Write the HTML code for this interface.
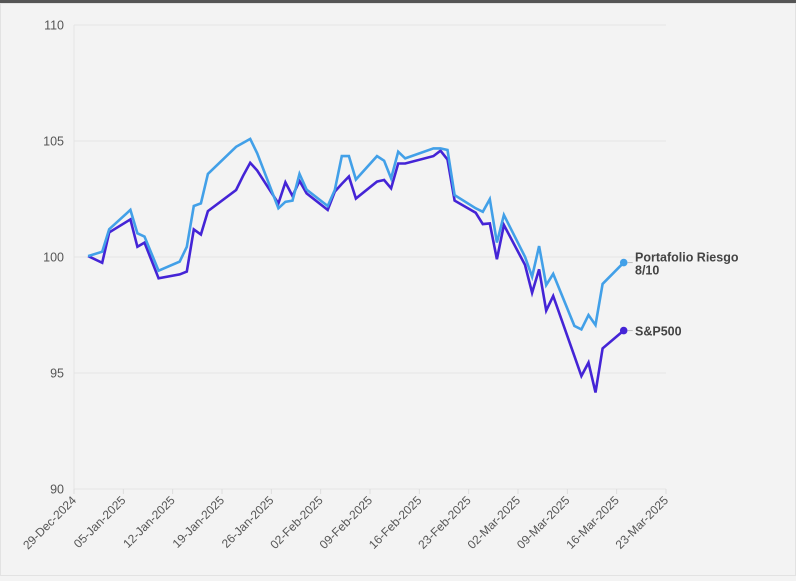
<!DOCTYPE html>
<html><head><meta charset="utf-8">
<style>
html,body{margin:0;padding:0;background:#f3f3f3;}
body{width:796px;height:576px;overflow:hidden;font-family:"Liberation Sans",sans-serif;}
</style></head>
<body>
<svg id="chart" width="796" height="576" xmlns="http://www.w3.org/2000/svg">
<rect x="0" y="0" width="796" height="576" fill="#f3f3f3"/>
<rect x="0.5" y="3.5" width="795" height="572" fill="none" stroke="#e2e2e2"/>
<rect x="0" y="0" width="796" height="3" fill="#555"/>
<g id="grid"></g><g id="axes"></g><g id="series"></g><g id="labels"></g>
</svg>
<script>
const dates = ["2024-12-31","2025-01-02","2025-01-03","2025-01-06","2025-01-07","2025-01-08","2025-01-10","2025-01-13","2025-01-14","2025-01-15","2025-01-16","2025-01-17","2025-01-21","2025-01-22","2025-01-23","2025-01-24","2025-01-27","2025-01-28","2025-01-29","2025-01-30","2025-01-31","2025-02-03","2025-02-04","2025-02-05","2025-02-06","2025-02-07","2025-02-10","2025-02-11","2025-02-12","2025-02-13","2025-02-14","2025-02-18","2025-02-19","2025-02-20","2025-02-21","2025-02-24","2025-02-25","2025-02-26","2025-02-27","2025-02-28","2025-03-03","2025-03-04","2025-03-05","2025-03-06","2025-03-07","2025-03-10","2025-03-11","2025-03-12","2025-03-13","2025-03-14","2025-03-17"];
const sp500 = [100.04,99.75,101.06,101.62,100.44,100.62,99.08,99.25,99.37,101.19,100.97,101.98,102.89,103.5,104.06,103.73,102.31,103.22,102.63,103.28,102.74,102.03,102.82,103.15,103.47,102.52,103.25,103.32,102.96,104.03,104.03,104.35,104.58,104.2,102.43,101.91,101.42,101.45,99.9,101.38,99.66,98.46,99.47,97.69,98.32,95.73,94.87,95.45,94.16,96.06,96.83];
const portfolio = [100.04,100.23,101.2,102.03,101.02,100.88,99.41,99.8,100.44,102.2,102.31,103.58,104.75,104.92,105.09,104.47,102.1,102.38,102.43,103.58,102.9,102.2,102.89,104.35,104.35,103.34,104.35,104.15,103.39,104.54,104.25,104.68,104.68,104.61,102.67,102.1,101.95,102.49,100.62,101.81,100.01,99.15,100.47,98.79,99.27,97.03,96.88,97.5,97.07,98.84,99.76];
const yTicks = [90,95,100,105,110];
const xTickLabels = ["29-Dec-2024","05-Jan-2025","12-Jan-2025","19-Jan-2025","26-Jan-2025","02-Feb-2025","09-Feb-2025","16-Feb-2025","23-Feb-2025","02-Mar-2025","09-Mar-2025","16-Mar-2025","23-Mar-2025"];
const xTickDates = ["2024-12-29","2025-01-05","2025-01-12","2025-01-19","2025-01-26","2025-02-02","2025-02-09","2025-02-16","2025-02-23","2025-03-02","2025-03-09","2025-03-16","2025-03-23"];

const NS="http://www.w3.org/2000/svg";
const X0=74,X1=666,Y0=489,Y1=25;
const t0=Date.parse("2024-12-29"),t1=Date.parse("2025-03-23");
function xs(d){return X0+(Date.parse(d)-t0)/(t1-t0)*(X1-X0);}
function ys(v){return Y0-(v-90)/(110-90)*(Y0-Y1);}
function mk(tag,attrs,parent){const e=document.createElementNS(NS,tag);for(const k in attrs)e.setAttribute(k,attrs[k]);parent.appendChild(e);return e;}
const grid=document.getElementById('grid'),axes=document.getElementById('axes'),series=document.getElementById('series'),labels=document.getElementById('labels');

yTicks.forEach(v=>{
  const l=mk('line',{x1:X0,x2:X1,y1:ys(v),y2:ys(v),stroke:'#e4e4e4','stroke-width':1},grid);
  
  
  const t=mk('text',{x:64,y:ys(v)+4.5,'text-anchor':'end','font-size':12.5,fill:'#555'},axes);
  t.textContent=v;
  
  
});
const ax=mk('line',{x1:X0,x2:X0,y1:Y1,y2:Y0,stroke:'#e4e4e4','stroke-width':1},axes);


xTickDates.forEach((d,i)=>{
  const x=xs(d);
  const tk=mk('line',{x1:x,x2:x,y1:Y0,y2:Y0+5,stroke:'#ddd'},axes);
  
  
  const t=mk('text',{x:x+3,y:Y0+12,'text-anchor':'end','font-size':12,fill:'#555',transform:`rotate(-45 ${x+3} ${Y0+12})`},axes);
  t.textContent=xTickLabels[i];
  
  
});

function drawSeries(vals,color,name,lab){
  const pts=vals.map((v,i)=>xs(dates[i]).toFixed(1)+','+ys(v).toFixed(1)).join(' ');
  const pl=mk('polyline',{points:pts,fill:'none',stroke:color,'stroke-width':2.6,'stroke-linejoin':'miter'},series);
  
  
  const lx=xs(dates[dates.length-1]),ly=ys(vals[vals.length-1]);
  const c=mk('circle',{cx:lx,cy:ly,r:3.8,fill:color},series);
  
  
  const cn=mk('line',{x1:lx+4,x2:lx+9,y1:ly,y2:ly,stroke:'#bbb'},series);
  
  
  const y0=lab.length>1?ly-1:ly+5;
  const t=mk('text',{x:635,y:y0,'font-size':12.5,'font-weight':'bold',fill:'#444'},labels);
  
  
  lab.forEach((s,i)=>{const ts=mk('tspan',{x:635,dy:i?13:0},t);ts.textContent=s;});
}
drawSeries(sp500,'#4424d6','sp500',['S&P500']);
drawSeries(portfolio,'#42a0e8','portfolio',['Portafolio Riesgo','8/10']);
</script>
</body></html>
